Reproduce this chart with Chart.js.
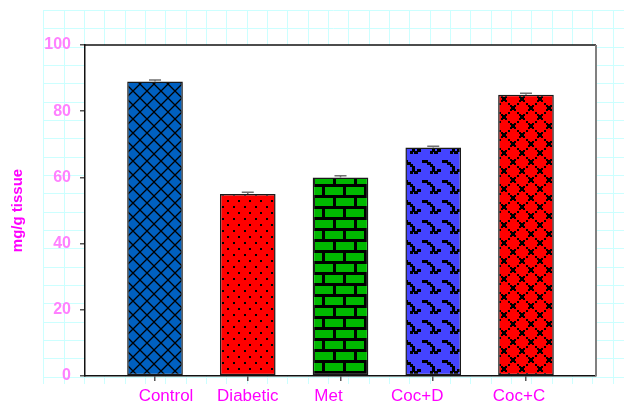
<!DOCTYPE html>
<html>
<head>
<meta charset="utf-8">
<script src="https://cdn.jsdelivr.net/npm/chart.js"></script>
<style>
    html, body { margin: 0; padding: 0; background: #fff; }
    canvas { display: block; }
</style>
</head>
<body>
<canvas id="tissueChart" width="624" height="404"></canvas>
<script>
// Values
const groups = ['Control', 'Diabetic', 'Met', 'Coc+D', 'Coc+C'];
const means = [89, 55, 60, 69, 85];
const errors = [0.4, 0.5, 0.5, 0.4, 0.4];
const yTicks = [0, 20, 40, 60, 80, 100];

// The original labels sit a little off their ticks (px)
const labelShift = [11, 0, -12, -16, -7];

const fontFamily = 'Arial, "Liberation Sans", sans-serif';

const canvas = document.getElementById('tissueChart');
const ctx = canvas.getContext('2d');

// Build a repeating fill from a small tile
function makePattern(w, h, bg, draw) {
    const tile = document.createElement('canvas');
    tile.width = w;
    tile.height = h;
    const g = tile.getContext('2d');
    g.fillStyle = bg;
    g.fillRect(0, 0, w, h);
    g.fillStyle = '#000';
    g.strokeStyle = '#000';
    draw(g);
    return ctx.createPattern(tile, 'repeat');
}

// Control - diagonal crosshatch on blue
const crossHatch = makePattern(14, 14, '#0060c0', g => {
    g.lineWidth = 1.3;
    g.beginPath();
    g.moveTo(-1, -1); g.lineTo(15, 15);
    g.moveTo(15, -1); g.lineTo(-1, 15);
    g.stroke();
});

// Diabetic - staggered dots on red
const dots = makePattern(11, 12, '#ff0000', g => {
    g.fillRect(2, 2, 2, 2);
    g.fillRect(7, 8, 2, 2);
});

// Met - green bricks, black mortar
const bricks = makePattern(21, 22, '#000', g => {
    g.fillStyle = '#00b800';
    g.fillRect(0, 0, 18, 8);
    g.fillRect(10, 11, 18, 8);
    g.fillRect(-11, 11, 18, 8);
});

// Coc+D - stepped wavy marks on blue
const waves = makePattern(20, 20, '#4444ff', g => {
    g.fillRect(2, 0, 6, 3);
    g.fillRect(7, 2, 4, 3);
    g.fillRect(10, 4, 3, 3);
    g.fillRect(12, 6, 3, 6);
    g.fillRect(10, 11, 3, 3);
    g.fillRect(14, 11, 4, 3);
    g.fillRect(17, 9, 3, 3);
    g.fillRect(0, 9, 1, 3);
});

// Coc+C - pixel diamond lattice on red
const lattice = makePattern(18, 18, '#ff0000', g => {
    const corners = [[0, 9], [9, 0], [18, 9], [9, 18], [0, 9]];
    for (let e = 0; e < 4; e++) {
        const [x0, y0] = corners[e];
        const [x1, y1] = corners[e + 1];
        for (let k = 0; k <= 4; k++) {
            const px = Math.round(x0 + (x1 - x0) * k / 4);
            const py = Math.round(y0 + (y1 - y0) * k / 4);
            g.fillRect(px - 1, py - 1, 2, 2);
        }
        // small cross where the lines meet
        g.fillRect(x0 - 2, y0 - 1, 4, 2);
        g.fillRect(x0 - 1, y0 - 2, 2, 4);
    }
});

const barFills = [crossHatch, dots, bricks, waves, lattice];

// Page grid behind everything, white plot box, frame, error bars, labels
const pagePlugin = {
    id: 'page',
    beforeDraw(chart) {
        const c = chart.ctx;
        const a = chart.chartArea;
        c.save();
        c.strokeStyle = '#ccffff';
        c.lineWidth = 1;
        c.beginPath();
        for (let x = 43.3; x < 624; x += 20.33) {
            c.moveTo(Math.round(x) + 0.5, 10);
            c.lineTo(Math.round(x) + 0.5, 384);
        }
        for (let y = 10; y < 385; y += 18.33) {
            c.moveTo(43, Math.round(y) + 0.5);
            c.lineTo(624, Math.round(y) + 0.5);
        }
        c.stroke();
        c.fillStyle = '#fff';
        c.fillRect(a.left, a.top, a.right - a.left, a.bottom - a.top);
        c.restore();
    },
    afterDatasetsDraw(chart) {
        const c = chart.ctx;
        const xs = chart.scales.x;
        const ys = chart.scales.y;
        c.save();
        c.strokeStyle = '#707070';
        c.lineWidth = 1.5;
        means.forEach((m, i) => {
            const x = xs.getPixelForValue(i);
            const yTop = ys.getPixelForValue(m + errors[i]);
            const yMid = ys.getPixelForValue(m);
            c.beginPath();
            c.moveTo(x, yMid);
            c.lineTo(x, yTop);
            c.moveTo(x - 6, yTop);
            c.lineTo(x + 6, yTop);
            c.stroke();
        });
        c.restore();
    },
    afterDraw(chart) {
        const c = chart.ctx;
        const a = chart.chartArea;
        const xs = chart.scales.x;
        c.save();
        // top and right edges of the plot box
        c.strokeStyle = '#111';
        c.lineWidth = 1.5;
        c.beginPath();
        c.moveTo(a.left, a.top);
        c.lineTo(a.right, a.top);
        c.stroke();
        c.strokeStyle = '#808080';
        c.lineWidth = 2;
        c.beginPath();
        c.moveTo(a.right, a.top);
        c.lineTo(a.right, a.bottom);
        c.stroke();

        // category labels
        c.fillStyle = '#ff00ff';
        c.font = '16px ' + fontFamily;
        c.textAlign = 'center';
        c.textBaseline = 'alphabetic';
        groups.forEach((name, i) => {
            c.save();
            c.translate(xs.getPixelForValue(i) + labelShift[i], a.bottom + 25);
            c.scale(1.06, 1);
            c.fillText(name, 0, 0);
            c.restore();
        });
        c.restore();
    }
};

new Chart(ctx, {
    type: 'bar',
    data: {
        datasets: [{
            data: means.map((v, i) => ({ x: i, y: v })),
            backgroundColor: barFills,
            borderColor: '#1a1a1a',
            borderWidth: 1.5,
            borderSkipped: false,
            barPercentage: 0.6,
            categoryPercentage: 1
        }]
    },
    options: {
        responsive: false,
        animation: false,
        devicePixelRatio: 1,
        layout: {
            padding: { top: 45, right: 28, left: 0, bottom: 0 }
        },
        plugins: {
            legend: { display: false },
            tooltip: { enabled: false }
        },
        scales: {
            x: {
                type: 'linear',
                offset: false,
                min: -0.755,
                max: 4.755,
                afterBuildTicks: s => { s.ticks = groups.map((g, i) => ({ value: i })); },
                afterFit: s => { s.height = 28; },
                ticks: { display: false },
                grid: {
                    offset: false,
                    drawOnChartArea: false,
                    drawTicks: true,
                    tickLength: 5,
                    color: '#555',
                    lineWidth: 1.5
                },
                border: { color: '#111', width: 1.5 }
            },
            y: {
                min: 0,
                max: 100,
                afterBuildTicks: s => { s.ticks = yTicks.map(v => ({ value: v })); },
                afterFit: s => { s.width = 85; },
                ticks: {
                    color: '#ff80ff',
                    font: { family: fontFamily, size: 16, weight: 'bold' },
                    padding: 9
                },
                grid: {
                    drawOnChartArea: false,
                    drawTicks: true,
                    tickLength: 5,
                    color: '#555',
                    lineWidth: 1.5
                },
                border: { color: '#111', width: 1.5 },
                title: {
                    display: true,
                    text: 'mg/g tissue',
                    color: '#ff00ff',
                    font: { family: fontFamily, size: 15, weight: 'bold' },
                    padding: { top: 9, bottom: 0 }
                }
            }
        }
    },
    plugins: [pagePlugin]
});
</script>
</body>
</html>
